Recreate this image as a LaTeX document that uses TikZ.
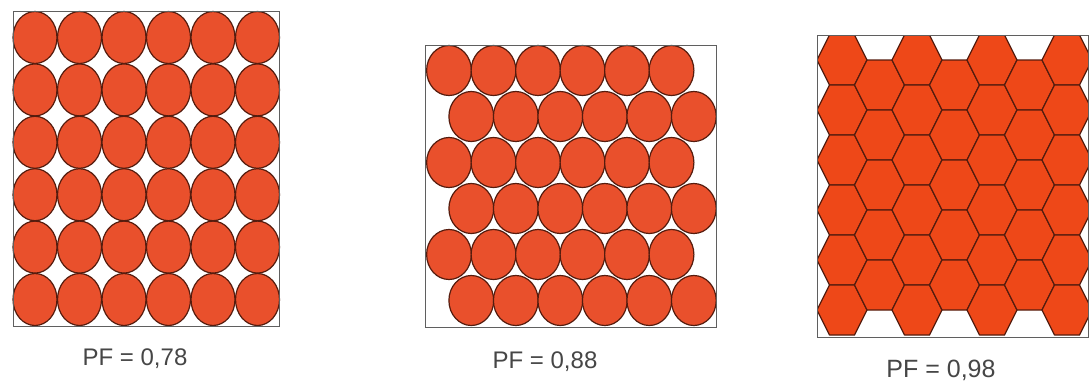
\documentclass[tikz,border=0pt]{standalone}
\usepackage{fontspec}
\setmainfont{Liberation Sans}
\definecolor{ballc}{RGB}{233,80,44}
\definecolor{hexc}{RGB}{238,72,24}
\definecolor{edgec}{RGB}{85,28,14}
\definecolor{boxc}{RGB}{95,95,95}
\definecolor{txtc}{RGB}{70,70,70}
\begin{document}
\begin{tikzpicture}[x=1pt,y=-1pt,
  ball/.style={fill=ballc,draw=edgec,line width=1.2pt},
  hexa/.style={fill=hexc,draw=edgec,line width=1.3pt,line join=round},
  frame/.style={draw=boxc,line width=0.8pt},
  lab/.style={text=txtc,font=\fontsize{24}{28}\selectfont,inner sep=0pt,anchor=center}]
\useasboundingbox (0,0) rectangle (1089,383);
\fill[white] (0,0) rectangle (1089,383);
% Panel 1: square packing
\foreach \i in {0,...,5}
  \foreach \j in {0,...,5}
    \path[ball] (35+44.5*\i, 37.5+52.4*\j) ellipse [x radius=22, y radius=26];
\draw[frame] (13,11) rectangle (279,326);
\node[lab] (pf1) at (135,359) {PF = 0,78};
% Panel 2: offset packing
\foreach \j in {0,...,5} {
  \pgfmathsetmacro{\xo}{449+22.3*mod(\j,2)}
  \foreach \i in {0,...,5}
    \path[ball] (\xo+44.5*\i, 70.5+46*\j) ellipse [x radius=22.4, y radius=25];
}
\draw[frame] (425,45) rectangle (716,327);
\node[lab] (pf2) at (545,362) {PF = 0,88};
% Panel 3: hexagons
\begin{scope}
\clip (817,35) rectangle (1088,337);
\foreach \i in {0,...,6} {
  \pgfmathsetmacro{\cx}{842+37.5*\i}
  \pgfmathtruncatemacro{\odd}{mod(\i,2)}
  \ifnum\odd=0
    \foreach \k in {0,...,5} {
      \pgfmathsetmacro{\cy}{60+50*\k}
      \draw[hexa] (\cx-25,\cy) -- (\cx-12.5,\cy-25) -- (\cx+12.5,\cy-25) -- (\cx+25,\cy) -- (\cx+12.5,\cy+25) -- (\cx-12.5,\cy+25) -- cycle;
    }
  \else
    \foreach \k in {0,...,4} {
      \pgfmathsetmacro{\cy}{85+50*\k}
      \draw[hexa] (\cx-25,\cy) -- (\cx-12.5,\cy-25) -- (\cx+12.5,\cy-25) -- (\cx+25,\cy) -- (\cx+12.5,\cy+25) -- (\cx-12.5,\cy+25) -- cycle;
    }
  \fi
}
\end{scope}
\draw[frame] (817,35) rectangle (1088,337);
\node[lab,font=\fontsize{25}{29}\selectfont] (pf3) at (941,370) {PF = 0,98};
\end{tikzpicture}
\end{document}
